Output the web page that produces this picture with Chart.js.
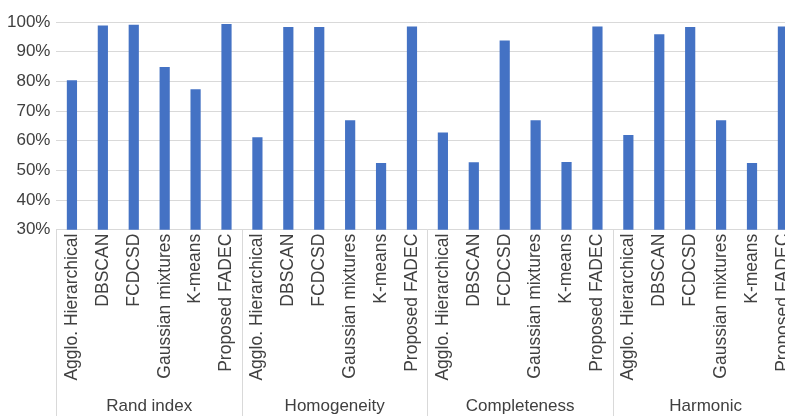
<!DOCTYPE html>
<html>
<head>
<meta charset="utf-8">
<script src="https://cdn.jsdelivr.net/npm/chart.js@4/dist/chart.umd.min.js"></script>
<style>
  html, body { margin: 0; padding: 0; background: #fff; overflow: hidden; }
  #frame { width: 785px; height: 416px; overflow: hidden; }
  #wrap { position: relative; width: 808px; height: 429px; }
</style>
</head>
<body>
<div id="frame"><div id="wrap"><canvas id="chart"></canvas></div></div>
<script>
// Clustering methods compared in each metric group
const methods = ['Agglo. Hierarchical', 'DBSCAN', 'FCDCSD', 'Gaussian mixtures', 'K-means', 'Proposed FADEC'];
const groups = ['Rand index', 'Homogeneity', 'Completeness', 'Harmonic'];

// Scores (%) per metric, in the order of `methods`
const randIndex    = [80.4, 98.8, 99.1, 84.8, 77.3, 99.3];
const homogeneity  = [61.2, 98.3, 98.3, 66.9, 52.5, 98.5];
const completeness = [62.8, 52.7, 93.8, 66.9, 52.8, 98.5];
const harmonic     = [61.9, 95.9, 98.3, 66.9, 52.5, 98.5];

// Y axis range and step (%)
const yMin = 30, yMax = 100, yStep = 10;

const groupValues = [randIndex, homogeneity, completeness, harmonic];
const labels = [];
const values = [];
groupValues.forEach(g => g.forEach((v, i) => { labels.push(methods[i]); values.push(v); }));

const textColor = '#404040';
const gridColor = '#d9d9d9';
const fontFamily = '"Liberation Sans", Arial, sans-serif';

// Vertical separators between metric groups, running through the label area
const groupSeparators = {
  id: 'groupSeparators',
  afterDraw(chart) {
    const g = chart.scales.x2;
    const ctx = chart.ctx;
    ctx.save();
    ctx.strokeStyle = gridColor;
    ctx.lineWidth = 1;
    for (let i = 0; i <= groups.length; i++) {
      const px = Math.round(g.getPixelForValue(i - 0.5)) + 0.5;
      ctx.beginPath();
      ctx.moveTo(px, chart.chartArea.bottom);
      ctx.lineTo(px, chart.height);
      ctx.stroke();
    }
    ctx.restore();
  }
};

new Chart(document.getElementById('chart'), {
  type: 'bar',
  data: {
    labels: labels,
    datasets: [{
      data: values,
      backgroundColor: '#4472C4',
      borderWidth: 0,
      barPercentage: 0.33,
      categoryPercentage: 1.0
    }]
  },
  options: {
    responsive: true,
    maintainAspectRatio: false,
    animation: false,
    layout: { padding: { left: 1, right: 4, top: 22, bottom: 0 } },
    plugins: { legend: { display: false }, tooltip: { enabled: false } },
    scales: {
      y: {
        min: yMin,
        max: yMax,
        ticks: {
          stepSize: yStep,
          padding: 6,
          color: textColor,
          font: { family: fontFamily, size: 17 },
          callback: v => v + '%'
        },
        grid: { color: gridColor, drawTicks: false, lineWidth: 1 },
        border: { display: false }
      },
      x: {
        position: 'bottom',
        ticks: {
          autoSkip: false,
          maxRotation: 90,
          minRotation: 90,
          padding: 4,
          color: textColor,
          font: { family: fontFamily, size: 17.5 }
        },
        grid: { display: false, drawTicks: false },
        border: { display: false }
      },
      x2: {
        type: 'category',
        position: 'bottom',
        labels: groups,
        ticks: { padding: 12, color: textColor, font: { family: fontFamily, size: 17 }, autoSkip: false, maxRotation: 0 },
        grid: { display: false, drawTicks: false },
        border: { display: false }
      }
    }
  },
  plugins: [groupSeparators]
});
</script>
</body>
</html>
